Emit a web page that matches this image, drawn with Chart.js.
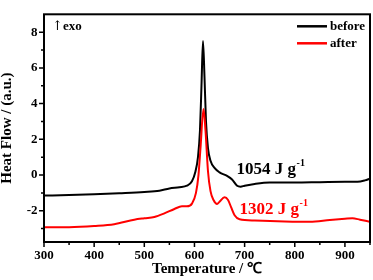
<!DOCTYPE html>
<html><head><meta charset="utf-8">
<script src="https://cdn.jsdelivr.net/npm/chart.js@4.4.1/dist/chart.umd.min.js"></script>
<style>html,body{margin:0;padding:0;background:#fff;}#wrap{width:373px;height:280px;position:relative;}</style>
</head><body><div id="wrap"><canvas id="c" width="373" height="280"></canvas></div>
<script>
// ---- data ----
const beforeTemp = [300,350,400,450,500,530,550,570,585,595,602,607,611,614,617,620,623,627,632,640,650,665,675,685,692,700,720,750,800,850,900,925,940,950];
const beforeFlow = [-1.15,-1.12,-1.08,-1.02,-0.95,-0.88,-0.75,-0.68,-0.6,-0.35,0.2,1.0,2.5,5.0,7.5,5.5,3.0,1.5,0.8,0.4,0.15,-0.05,-0.25,-0.6,-0.65,-0.6,-0.5,-0.42,-0.42,-0.4,-0.38,-0.38,-0.3,-0.2];
const afterTemp = [300,350,400,440,480,500,520,540,560,575,585,595,603,608,612,618,622,627,632,638,645,650,660,667,673,680,690,720,780,830,870,900,915,930,950];
const afterFlow = [-2.93,-2.92,-2.85,-2.75,-2.5,-2.42,-2.35,-2.15,-1.9,-1.75,-1.75,-1.6,-1.0,0,1.5,3.7,2.5,0.2,-0.9,-1.4,-1.62,-1.5,-1.25,-1.4,-1.8,-2.25,-2.48,-2.55,-2.6,-2.62,-2.52,-2.45,-2.42,-2.5,-2.62];
const seriesNames = ['before','after'];
const xTickLabels = [300,400,500,600,700,800,900];
const xMinorTicks = [300,350,400,450,500,550,600,650,700,750,800,850,900,950];
const yTickLabels = [-2,0,2,4,6,8];
const yMinorTicks = [-3,-2,-1,0,1,2,3,4,5,6,7,8];
const energyLabels = [{text:'1054 J g', sup:'-1', x:684, y:0.3, color:'#000'},{text:'1302 J g', sup:'-1', x:690, y:-1.95, color:'#ff0000'}];

const FONT = '"Liberation Serif","Times New Roman",serif';
const toPts = (xs, ys) => xs.map((x,i)=>({x, y:ys[i]}));

const overlay = {
  id:'overlay',
  afterDraw(chart){
    const {ctx, chartArea:a, scales:{x,y}} = chart;
    ctx.save();
    ctx.strokeStyle='#000'; ctx.lineWidth=2;
    ctx.strokeRect(a.left, a.top, a.right-a.left, a.bottom-a.top);
    ctx.lineWidth=1.5;
    ctx.beginPath();
    xMinorTicks.forEach(v=>{const p=x.getPixelForValue(v); const l=(v%100===0)?5:3; ctx.moveTo(p,a.bottom); ctx.lineTo(p,a.bottom+l);});
    yMinorTicks.forEach(v=>{const p=y.getPixelForValue(v); const l=(v%2===0)?5:3; ctx.moveTo(a.left,p); ctx.lineTo(a.left-l,p);});
    ctx.stroke();
    // legend
    const ds = chart.data.datasets;
    ctx.font = 'bold 13px '+FONT; ctx.textBaseline='middle'; ctx.textAlign='left';
    ds.forEach((d,i)=>{
      const yy = a.top + 12 + i*17;
      ctx.strokeStyle=d.borderColor; ctx.lineWidth=2.5;
      ctx.beginPath(); ctx.moveTo(a.right-73,yy); ctx.lineTo(a.right-43,yy); ctx.stroke();
      ctx.fillStyle='#000'; ctx.fillText(d.label, a.right-40, yy);
    });
    // exo
    ctx.font='13px "DejaVu Serif",'+FONT; ctx.fillText('\u2191', a.left+8, a.top+12);
    ctx.font='bold 13px '+FONT; ctx.fillText('exo', a.left+19, a.top+12);
    // energy labels
    energyLabels.forEach(e=>{
      const px=x.getPixelForValue(e.x), py=y.getPixelForValue(e.y);
      ctx.fillStyle=e.color; ctx.font='bold 17px '+FONT; ctx.textBaseline='middle';
      ctx.fillText(e.text, px, py);
      const w=ctx.measureText(e.text).width;
      ctx.font='bold 10px '+FONT; ctx.fillText(e.sup, px+w+0.5, py-6);
    });
    ctx.restore();
  }
};

new Chart(document.getElementById('c'), {
  type:'line',
  data:{datasets:[
    {label:seriesNames[0], data:toPts(beforeTemp,beforeFlow), borderColor:'#000000', borderWidth:2, pointRadius:0, cubicInterpolationMode:'monotone', order:1},
    {label:seriesNames[1], data:toPts(afterTemp,afterFlow), borderColor:'#ff0000', borderWidth:2, pointRadius:0, cubicInterpolationMode:'monotone', order:0}
  ]},
  options:{
    responsive:false, animation:false, devicePixelRatio:1,
    layout:{padding:{top:3,right:3,left:0,bottom:0}},
    plugins:{legend:{display:false}, tooltip:{enabled:false}},
    scales:{
      x:{type:'linear', min:300, max:950,
        afterBuildTicks:s=>{s.ticks=xTickLabels.map(v=>({value:v}));},
        afterFit:s=>{s.height=38;},
        grid:{display:false, drawTicks:false}, border:{display:false},
        ticks:{color:'#000', padding:6, maxRotation:0, autoSkip:false, font:{family:FONT,size:13,weight:'bold'}},
        title:{display:true, text:'Temperature / \u2103', color:'#000', padding:{top:0,bottom:3.5}, font:{family:FONT,size:15,weight:'bold',lineHeight:1}}
      },
      y:{type:'linear', min:-3.75, max:9,
        afterBuildTicks:s=>{s.ticks=yTickLabels.map(v=>({value:v}));},
        afterFit:s=>{s.width=44;},
        grid:{display:false, drawTicks:false}, border:{display:false},
        ticks:{color:'#000', padding:6.5, autoSkip:false, font:{family:FONT,size:13,weight:'bold'}},
        title:{display:true, text:'Heat Flow / (a.u.)', color:'#000', padding:{top:0,bottom:0}, font:{family:FONT,size:15,weight:'bold',lineHeight:1}}
      }
    }
  },
  plugins:[overlay]
});
</script></body></html>
